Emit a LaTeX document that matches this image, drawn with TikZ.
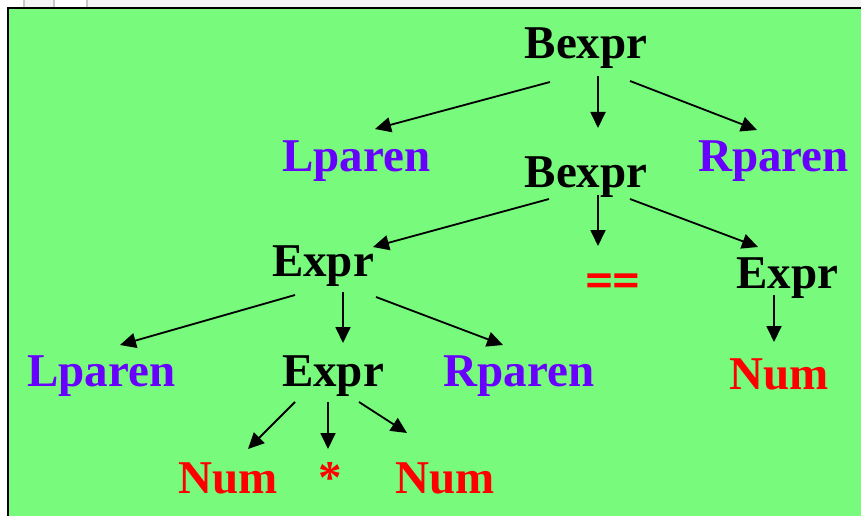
\documentclass[tikz,border=0pt]{standalone}
\usepackage{fontspec}
\setmainfont{Liberation Serif}
\usetikzlibrary{arrows.meta,calc}

\definecolor{panelgreen}{RGB}{120,250,124}
\definecolor{termpurple}{RGB}{104,0,255}
\definecolor{termred}{RGB}{255,0,0}
\definecolor{stripgrey}{RGB}{244,244,244}
\definecolor{tickgrey}{RGB}{200,200,200}

\tikzset{
  sym/.style={inner sep=0pt, anchor=base, font=\fontsize{47}{50}\selectfont\bfseries},
  nonterm/.style={sym, text=black},
  paren/.style={sym, text=termpurple},
  tok/.style={sym, text=termred},
  arr/.style={line width=1.8pt, -{Triangle[length=16pt,width=15pt]}},
}

\begin{document}
\begin{tikzpicture}[x=1pt,y=-1pt]
  \useasboundingbox (0,0) rectangle (861,516);
  % window strip above the panel
  \fill[white] (0,0) rectangle (861,516);
  \fill[stripgrey] (25,0) rectangle (53,7);
  \fill[stripgrey] (88,0) rectangle (861,7);
  \fill[tickgrey] (23,0) rectangle (25,7);
  \fill[tickgrey] (53,0) rectangle (55,7);
  \fill[tickgrey] (86,0) rectangle (88,7);
  % green panel
  \begin{scope}
    \clip (0,0) rectangle (861,516);
    \draw[line width=2.4pt, fill=panelgreen] (8,8) rectangle (880,540);
  \end{scope}

  % parse tree symbols
  \node[nonterm] (b1)  at (586,59)    {Bexpr};
  \node[paren]   (lp1) at (356.5,171) {Lparen};
  \node[nonterm] (b2)  at (586,187)   {Bexpr};
  \node[paren]   (rp1) at (773.5,171) {Rparen};
  \node[nonterm] (e1)  at (323,276)   {Expr};
  \node[tok]     (eq)  at (612.5,296) {\addfontfeature{FakeBold=2.5}==};
  \node[nonterm] (e2)  at (787.5,288) {Expr};
  \node[paren]   (lp2) at (101.5,386) {Lparen};
  \node[nonterm] (e3)  at (333,386)   {Expr};
  \node[paren]   (rp2) at (519,386)   {Rparen};
  \node[tok]     (n1)  at (779.5,389) {Num};
  \node[tok]     (n2)  at (228.5,493) {Num};
  \node[tok]     (st)  at (330,493)   {*};
  \node[tok]     (n3)  at (445,493)   {Num};

  % derivation arrows
  \draw[arr] ($(b1.base)+(-36,23)$) -- ($(lp1.base)+(18.5,-42)$);
  \draw[arr] ($(b1.base)+(12,17)$)  -- ($(b2.base)+(12,-59)$);
  \draw[arr] ($(b1.base)+(44,22)$)  -- ($(rp1.base)+(-16.5,-41)$);
  \draw[arr] ($(b2.base)+(-37,12)$) -- ($(e1.base)+(50,-29)$);
  \draw[arr] ($(b2.base)+(12,8)$)   -- ($(eq.base)+(-14.5,-50)$);
  \draw[arr] ($(b2.base)+(44,12)$)  -- ($(e2.base)+(-29.5,-41)$);
  \draw[arr] ($(e1.base)+(-28,19)$) -- ($(lp2.base)+(18.5,-41)$);
  \draw[arr] ($(e1.base)+(20,16)$)  -- ($(e3.base)+(10,-43)$);
  \draw[arr] ($(e1.base)+(53,21)$)  -- ($(rp2.base)+(-16,-41)$);
  \draw[arr] ($(e2.base)+(-13.5,7)$) -- ($(n1.base)+(-5.5,-47)$);
  \draw[arr] ($(e3.base)+(-38,16)$) -- ($(n2.base)+(19.5,-44)$);
  \draw[arr] ($(e3.base)+(-5,16)$)  -- ($(st.base)+(-2,-44)$);
  \draw[arr] ($(e3.base)+(26,16)$)  -- ($(n3.base)+(-38,-60)$);
\end{tikzpicture}
\end{document}
